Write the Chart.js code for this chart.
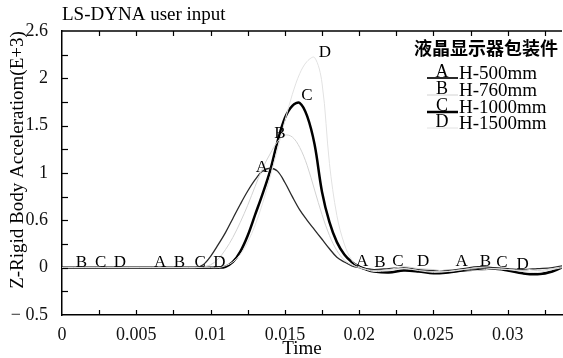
<!DOCTYPE html>
<html>
<head>
<meta charset="utf-8">
<script src="https://cdn.jsdelivr.net/npm/chart.js@4.4.1/dist/chart.umd.min.js"></script>
<style>
  html, body { margin: 0; padding: 0; background: #fff; }
  #wrap { width: 563px; height: 358px; }
</style>
</head>
<body>
<div id="wrap"><canvas id="accChart" width="563" height="358"></canvas></div>
<script>
/* Data */
const timeGrid = [0, 0.003, 0.006, 0.008,
    0.009, 0.0095, 0.010, 0.0105, 0.011, 0.0115, 0.012, 0.0125, 0.013, 0.0135,
    0.014, 0.0145, 0.015, 0.0155, 0.016, 0.0165, 0.017, 0.0175, 0.018, 0.0185,
    0.019, 0.0195, 0.020, 0.0205, 0.021,
    0.022, 0.023, 0.024, 0.025, 0.026, 0.027, 0.028, 0.029, 0.030, 0.031, 0.032, 0.033, 0.034];

const accA = [0, 0, 0, 0,
    0, 0.03, 0.12, 0.24, 0.37, 0.52, 0.67, 0.81, 0.93, 1.02,
    1.05, 1.02, 0.9, 0.75, 0.61, 0.5, 0.4, 0.3, 0.2, 0.11,
    0.06, 0.02, 0, -0.01, -0.02,
    -0.01, 0, -0.02, -0.03, -0.03, -0.01, 0.01, 0, -0.01, -0.02, -0.01, 0, 0.03];

const accB = [0, 0, 0, 0,
    0, 0.01, 0.03, 0.09, 0.19, 0.32, 0.48, 0.66, 0.86, 1.05,
    1.2, 1.33, 1.4, 1.38, 1.27, 1.08, 0.82, 0.56, 0.34, 0.18,
    0.08, 0.03, 0, -0.02, -0.03,
    -0.02, 0.01, -0.01, -0.02, -0.04, -0.02, 0, -0.01, -0.02, -0.01, -0.03, -0.01, 0.02];

const accC = [0, 0, 0, 0,
    0, 0, 0, 0, 0.01, 0.06, 0.17, 0.34, 0.56, 0.78,
    1.02, 1.33, 1.58, 1.71, 1.74, 1.6, 1.3, 0.8, 0.48, 0.27,
    0.14, 0.06, 0.01, -0.02, -0.04,
    -0.05, -0.03, -0.04, -0.06, -0.05, -0.03, -0.02, -0.01, -0.03, -0.06, -0.07, -0.04, 0.03];

const accD = [0, 0, 0, 0,
    0, 0, 0, 0, 0.02, 0.06, 0.14, 0.27, 0.45, 0.68,
    0.95, 1.25, 1.55, 1.83, 2.05, 2.18, 2.22, 1.95, 1.1, 0.55,
    0.25, 0.08, 0.01, -0.02, -0.04,
    -0.03, -0.01, -0.03, -0.05, -0.04, -0.02, -0.03, -0.01, -0.02, -0.04, -0.05, -0.02, 0.01];

const seriesLetters = ["A", "B", "C", "D"];
const seriesNames = ["H-500mm", "H-760mm", "H-1000mm", "H-1500mm"];

const xTickValues = [0, 0.005, 0.01, 0.015, 0.02, 0.025, 0.03];
const xTickLabels = ["0", "0.005", "0.01", "0.015", "0.02", "0.025", "0.03"];
const yTickValues = [-0.5, 0, 0.5, 1, 1.5, 2, 2.5];
const yTickLabels = ["\u2212 0.5", "0", "0.6", "1", "1.5", "2", "2.6"];

// curve letters [letter, time, value]
const curveLabels = [
    ["B", 0.0013, 0.05], ["C", 0.0026, 0.05], ["D", 0.0039, 0.05],
    ["A", 0.0066, 0.05], ["B", 0.0079, 0.05], ["C", 0.0093, 0.05], ["D", 0.0106, 0.05],
    ["A", 0.01346, 1.06], ["B", 0.01467, 1.42], ["C", 0.01649, 1.82], ["D", 0.0177, 2.27],
    ["A", 0.0202, 0.06], ["B", 0.0214, 0.05], ["C", 0.0226, 0.06], ["D", 0.0243, 0.06],
    ["A", 0.0269, 0.06], ["B", 0.0285, 0.06], ["C", 0.0296, 0.05], ["D", 0.0310, 0.03],
];

/* Styles */
const lineColors = ["#2a2a2a", "#d2d2d2", "#000000", "#e2e2e2"];
const lineWidths = [1.3, 1, 2.5, 1];
const serif = "'Liberation Serif', 'Times New Roman', serif";

function toPoints(values) {
    return timeGrid.map((t, i) => ({ x: t, y: values[i] }));
}

const decorPlugin = {
    id: "decor",
    afterDraw(chart) {
        const ctx = chart.ctx;
        const area = chart.chartArea;
        const xs = chart.scales.x;
        const ys = chart.scales.y;
        ctx.save();

        // top border
        ctx.strokeStyle = "#000";
        ctx.lineWidth = 1.5;
        ctx.beginPath();
        ctx.moveTo(area.left, area.top);
        ctx.lineTo(area.right, area.top);
        ctx.stroke();

        // inward ticks
        ctx.lineWidth = 1.2;
        for (let t = 0.0025; t < xs.max; t += 0.0025) {
            const px = Math.round(xs.getPixelForValue(t)) + 0.5;
            ctx.beginPath();
            ctx.moveTo(px, area.bottom);
            ctx.lineTo(px, area.bottom - 5);
            ctx.moveTo(px, area.top);
            ctx.lineTo(px, area.top + 5);
            ctx.stroke();
        }
        for (let v = -0.25; v < ys.max; v += 0.25) {
            const py = Math.round(ys.getPixelForValue(v)) + 0.5;
            ctx.beginPath();
            ctx.moveTo(area.left, py);
            ctx.lineTo(area.left + 6, py);
            ctx.stroke();
        }

        // letters on curves
        ctx.fillStyle = "#000";
        ctx.font = "17px " + serif;
        ctx.textAlign = "center";
        ctx.textBaseline = "middle";
        curveLabels.forEach(([letter, t, v]) => {
            ctx.fillText(letter, xs.getPixelForValue(t), ys.getPixelForValue(v));
        });

        // title
        ctx.textAlign = "left";
        ctx.font = "19px " + serif;
        ctx.fillText("LS-DYNA user input", 62, 15);

        // axis titles
        ctx.textAlign = "center";
        ctx.fillText("Time", 302, 349);
        ctx.save();
        ctx.translate(18, 160);
        ctx.rotate(-Math.PI / 2);
        ctx.fillText("Z-Rigid Body Acceleratiom(E+3)", 0, 0);
        ctx.restore();

        // legend
        ctx.font = "bold 18px 'Noto Sans CJK SC', sans-serif";
        ctx.fillText("液晶显示器包装件", 486, 48);
        const rowY = [72, 89, 106, 122];
        seriesLetters.forEach((letter, i) => {
            ctx.strokeStyle = lineColors[i];
            ctx.lineWidth = i === 0 ? 2 : lineWidths[i];
            ctx.beginPath();
            ctx.moveTo(427, rowY[i] + 6);
            ctx.lineTo(458, rowY[i] + 6);
            ctx.stroke();
            ctx.font = "18px " + serif;
            ctx.textAlign = "center";
            ctx.fillText(letter, 442, rowY[i]);
            ctx.font = "19px " + serif;
            ctx.textAlign = "left";
            ctx.fillText(seriesNames[i], 459, rowY[i] + 2);
        });

        ctx.restore();
    }
};

const drawOrder = [accD, accB, accA, accC];
const allSeries = [accA, accB, accC, accD];
const datasets = drawOrder.map((vals) => {
    const i = allSeries.indexOf(vals);
    return {
        label: seriesNames[i],
        data: toPoints(vals),
        borderColor: lineColors[i],
        borderWidth: lineWidths[i],
        pointRadius: 0,
        fill: false,
        tension: 0.35,
    };
});

new Chart(document.getElementById("accChart"), {
    type: "line",
    data: { datasets },
    options: {
        responsive: false,
        animation: false,
        layout: { padding: { top: 31, right: 1, left: 0, bottom: 0 } },
        plugins: {
            legend: { display: false },
            title: { display: false },
            tooltip: { enabled: false },
        },
        scales: {
            x: {
                type: "linear",
                min: 0,
                max: 0.03365,
                afterFit: (scale) => { scale.height = 43; },
                afterBuildTicks: (scale) => {
                    scale.ticks = xTickValues.map(v => ({ value: v }));
                },
                grid: { display: false },
                border: { display: true, color: "#000", width: 1.5 },
                ticks: {
                    padding: 1,
                    color: "#111",
                    font: { family: serif, size: 18 },
                    maxRotation: 0,
                    callback: (value) => xTickLabels[xTickValues.indexOf(value)],
                },
            },
            y: {
                type: "linear",
                min: -0.5,
                max: 2.5,
                afterFit: (scale) => { scale.width = 62; },
                afterBuildTicks: (scale) => {
                    scale.ticks = yTickValues.map(v => ({ value: v }));
                },
                grid: { display: false },
                border: { display: true, color: "#000", width: 1.5 },
                ticks: {
                    padding: 6,
                    color: "#111",
                    font: { family: serif, size: 18 },
                    callback: (value) => yTickLabels[yTickValues.indexOf(value)],
                },
            },
        },
    },
    plugins: [decorPlugin],
});
</script>
</body>
</html>
